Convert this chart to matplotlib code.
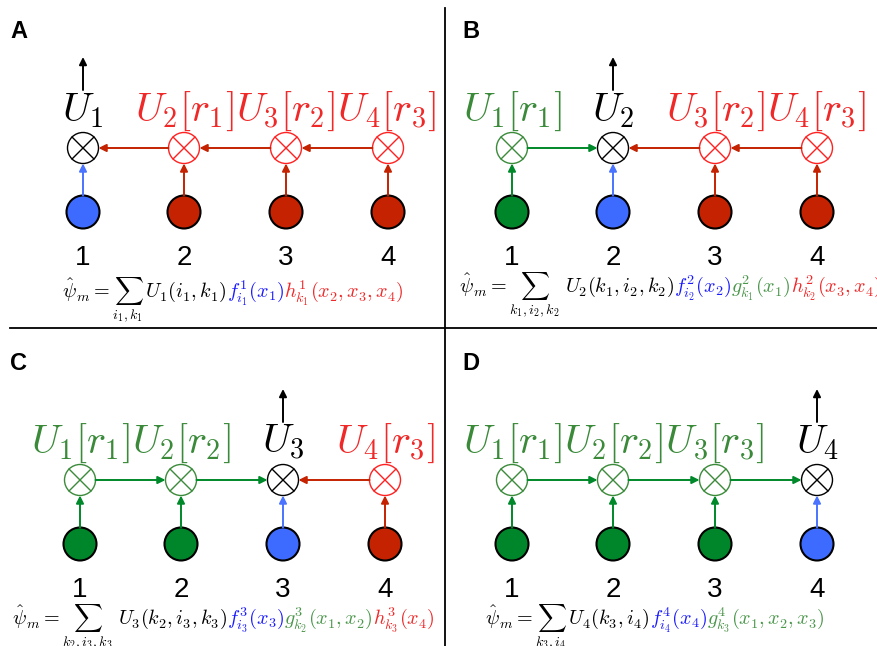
import matplotlib.pyplot as plt
from matplotlib.patches import Circle

plt.rcParams['mathtext.fontset'] = 'cm'

# ---- data ----
panels = ['A', 'B', 'C', 'D']
active = [1, 2, 3, 4]                       # node whose U is being estimated
node_labels = ['1', '2', '3', '4']
green_labels = ['', r'$U_1[r_1]$', r'$U_1[r_1]U_2[r_2]$', r'$U_1[r_1]U_2[r_2]U_3[r_3]$']
black_labels = [r'$U_1$', r'$U_2$', r'$U_3$', r'$U_4$']
red_labels = [r'$U_2[r_1]U_3[r_2]U_4[r_3]$', r'$U_3[r_2]U_4[r_3]$', r'$U_4[r_3]$', '']

# formula pieces: (text, colour key)
formulas = [
    [(r'$\hat{\psi}_m = \sum_{i_1,k_1}\,U_1(i_1,k_1)$', 'k'),
     (r'$f^1_{i_1}(x_1)$', 'b'),
     (r'$h^1_{k_1}(x_2,x_3,x_4)$', 'r')],
    [(r'$\hat{\psi}_m = \sum_{k_1,i_2,k_2}\ U_2(k_1,i_2,k_2)$', 'k'),
     (r'$f^2_{i_2}(x_2)$', 'b'),
     (r'$g^2_{k_1}(x_1)$', 'g'),
     (r'$h^2_{k_2}(x_3,x_4)$', 'r')],
    [(r'$\hat{\psi}_m = \sum_{k_2,i_3,k_3}\ U_3(k_2,i_3,k_3)$', 'k'),
     (r'$f^3_{i_3}(x_3)$', 'b'),
     (r'$g^3_{k_2}(x_1,x_2)$', 'g'),
     (r'$h^3_{k_3}(x_4)$', 'r')],
    [(r'$\hat{\psi}_m = \sum_{k_3,i_4}\,U_4(k_3,i_4)$', 'k'),
     (r'$f^4_{i_4}(x_4)$', 'b'),
     (r'$g^4_{k_3}(x_1,x_2,x_3)$', 'g')],
]

# ---- layout (pixels) ----
node_x = [83, 184, 286, 388]
panel_dx = [0, 429, -3, 429]
panel_dy = [0, 0, 332, 332]
letter_x = [10, 462, 10, 462]
formula_x = [62, 459, 12, 485]
formula_y = [298, 293, 293, 293]

fill_col = {'g': '#00862a', 'b': '#3d6bff', 'r': '#c42200'}
arrow_col = {'g': '#00892a', 'b': '#4a74ff', 'r': '#c42200'}
ring_col = {'g': '#3a8a3a', 'b': 'black', 'r': '#ff2020'}
text_col = {'k': 'black', 'b': '#1a1aff', 'g': '#4a964a', 'r': '#f02828'}

fig = plt.figure(figsize=(8.77, 6.46), dpi=100)
ax = fig.add_axes([0, 0, 1, 1])
ax.set_xlim(0, 877)
ax.set_ylim(646, 0)
ax.axis('off')

r_top, r_bot = 15.5, 16.5
y_top, y_bot, y_num, y_lab = 148, 212, 265, 121


def arrow(x0, y0, x1, y1, c):
    ax.annotate('', xy=(x1, y1), xytext=(x0, y0),
                arrowprops=dict(arrowstyle='-|>', color=c, lw=1.4,
                                mutation_scale=11, shrinkA=0, shrinkB=0))


renderer = fig.canvas.get_renderer()

for p in range(4):
    dx, dy = panel_dx[p], panel_dy[p]
    a = active[p]
    xs = [x + dx for x in node_x]
    kinds = ['g' if i + 1 < a else ('b' if i + 1 == a else 'r') for i in range(4)]

    ax.text(letter_x[p], 32 + dy, panels[p], fontsize=17, fontweight='bold',
            family='Liberation Sans', ha='left', va='center')

    for i, x in enumerate(xs):
        k = kinds[i]
        # bottom filled node
        ax.add_patch(Circle((x, y_bot + dy), r_bot, facecolor=fill_col[k],
                            edgecolor='black', lw=1.5, zorder=3))
        # top tensor node
        ec = ring_col[k]
        ax.add_patch(Circle((x, y_top + dy), r_top, facecolor='white',
                            edgecolor=ec, lw=1.0, zorder=3))
        d = r_top * 0.7071
        ax.plot([x - d, x + d], [y_top + dy - d, y_top + dy + d], color=ec, lw=1.0, zorder=4)
        ax.plot([x - d, x + d], [y_top + dy + d, y_top + dy - d], color=ec, lw=1.0, zorder=4)
        # vertical arrow
        arrow(x, y_bot + dy - r_bot, x, y_top + dy + r_top, arrow_col[k])
        # number
        ax.text(x, y_num + dy, node_labels[i], fontsize=20, family='Liberation Sans',
                ha='center', va='baseline')

    # horizontal arrows toward active node
    for i in range(3):
        if i + 1 < a:
            arrow(xs[i] + r_top, y_top + dy, xs[i + 1] - r_top, y_top + dy, arrow_col['g'])
        else:
            arrow(xs[i + 1] - r_top, y_top + dy, xs[i] + r_top, y_top + dy, arrow_col['r'])

    # output arrow
    arrow(xs[a - 1], 90 + dy, xs[a - 1], 57 + dy, 'black')

    # labels
    ax.text(xs[a - 1], y_lab + dy, black_labels[p], fontsize=29, color='black',
            ha='center', va='baseline')
    if green_labels[p]:
        gx = sum(xs[:a - 1]) / (a - 1)
        ax.text(gx, y_lab + dy, green_labels[p], fontsize=29, color='#3a8a3a',
                ha='center', va='baseline')
    if red_labels[p]:
        rx = sum(xs[a:]) / (4 - a)
        ax.text(rx, y_lab + dy, red_labels[p], fontsize=29, color='#f02828',
                ha='center', va='baseline')

    # formula, coloured piece by piece
    fx = formula_x[p]
    for s, c in formulas[p]:
        t = ax.text(fx, formula_y[p] + dy, s, fontsize=14.5, color=text_col[c],
                    ha='left', va='baseline')
        fx += t.get_window_extent(renderer).width

# dividers
ax.plot([445, 445], [8, 646], color='black', lw=1.3)
ax.plot([10, 877], [328, 328], color='black', lw=1.3)

fig.savefig('out.png', dpi=100)
